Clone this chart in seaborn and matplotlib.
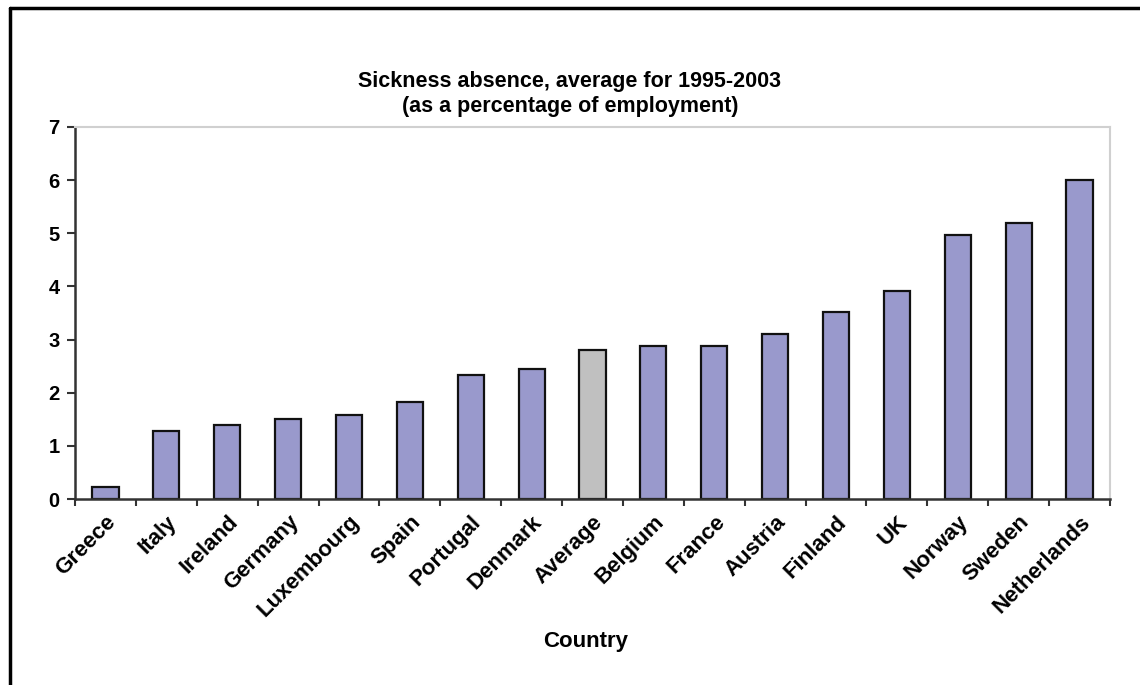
import matplotlib
matplotlib.use("Agg")
import matplotlib.pyplot as plt
from matplotlib.lines import Line2D
from matplotlib.ticker import FixedLocator
import seaborn as sns
import pandas as pd

countries = ["Greece", "Italy", "Ireland", "Germany", "Luxembourg", "Spain",
             "Portugal", "Denmark", "Average", "Belgium", "France", "Austria",
             "Finland", "UK", "Norway", "Sweden", "Netherlands"]
absence = [0.23, 1.28, 1.40, 1.51, 1.59, 1.82, 2.33, 2.45, 2.80, 2.87, 2.87,
           3.11, 3.51, 3.92, 4.97, 5.20, 6.01]
y_ticks = [0, 1, 2, 3, 4, 5, 6, 7]

country_colour = "#9999CC"
average_colour = "#C0C0C0"

sns.set_style("white")
plt.rcParams["font.family"] = ["Liberation Sans", "DejaVu Sans"]
plt.rcParams["font.weight"] = "bold"
plt.rcParams["text.color"] = "black"
plt.rcParams["xtick.color"] = "black"
plt.rcParams["ytick.color"] = "black"
plt.rcParams["axes.labelcolor"] = "black"

df = pd.DataFrame({"Country": countries, "Absence": absence})
palette = {c: (average_colour if c == "Average" else country_colour) for c in countries}

fig = plt.figure(figsize=(11.4, 6.85), dpi=100)
ax = fig.add_axes([0.0658, 0.2715, 0.9079, 0.5431])

sns.barplot(data=df, x="Country", y="Absence", hue="Country", palette=palette,
            order=countries, legend=False, width=0.43, edgecolor="#111111",
            linewidth=1.6, saturation=1, ax=ax)

ax.set_xlim(-0.5, len(countries) - 0.5)
ax.set_ylim(0, 7)
ax.set_yticks(y_ticks)
ax.set_yticklabels([str(t) for t in y_ticks], fontsize=14.5, fontweight="bold")
ax.tick_params(axis="y", direction="out", length=6, width=1.5, color="#333333",
               pad=5, left=True, labelcolor="black")

# category labels without marks; marks at the category boundaries
ax.set_xticks(range(len(countries)))
ax.set_xticklabels(countries, rotation=45, ha="right", va="top",
                   rotation_mode="anchor", fontsize=16, fontweight="bold")
ax.tick_params(axis="x", which="major", length=0, pad=9, labelcolor="black")
ax.xaxis.set_minor_locator(FixedLocator([i - 0.5 for i in range(len(countries) + 1)]))
ax.tick_params(axis="x", which="minor", direction="out", length=5, width=1.5,
               color="#333333", bottom=True)

for side in ("left", "bottom"):
    ax.spines[side].set_color("#333333")
    ax.spines[side].set_linewidth(1.8)
for side in ("top", "right"):
    ax.spines[side].set_visible(True)
    ax.spines[side].set_color("#D0D0D0")
    ax.spines[side].set_linewidth(1.5)

ax.set_ylabel("")
ax.set_xlabel("")
fig.text(0.514, 0.064, "Country", ha="center", va="center", fontsize=16,
         fontweight="bold", color="black")

fig.text(0.5, 0.863, "Sickness absence, average for 1995-2003\n(as a percentage of employment)",
         ha="center", va="center", fontsize=15.5, fontweight="bold", linespacing=1.25,
         color="black")

# frame lines along the top and left of the figure
fig.add_artist(Line2D([0.0092, 0.0092], [0, 0.989], color="black", linewidth=2.5,
                      transform=fig.transFigure))
fig.add_artist(Line2D([0.0092, 1.0], [0.989, 0.989], color="black", linewidth=2.5,
                      transform=fig.transFigure))

fig.savefig("out.png", dpi=100, facecolor="white")
